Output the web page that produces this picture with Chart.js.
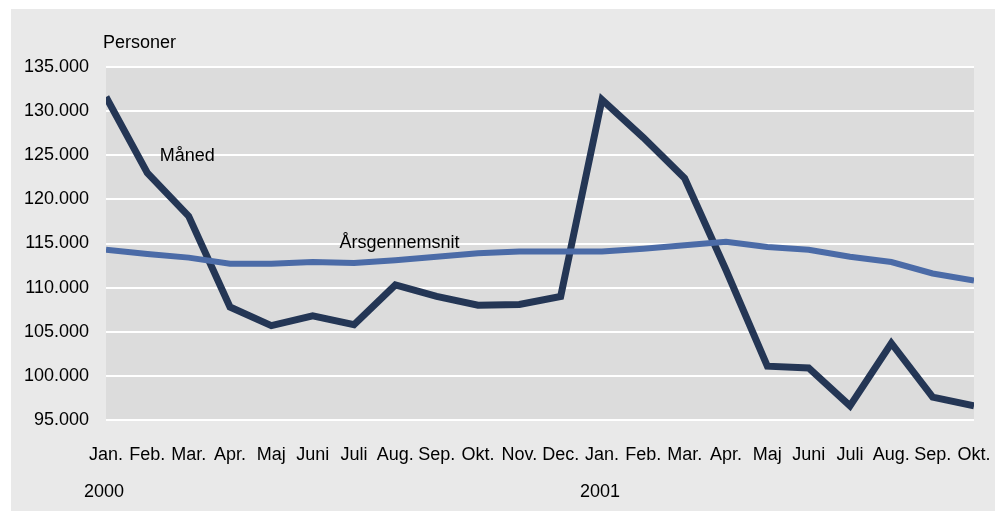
<!DOCTYPE html>
<html>
<head>
<meta charset="utf-8">
<script src="https://cdn.jsdelivr.net/npm/chart.js@4"></script>
<style>
  html, body { margin: 0; padding: 0; background: #ffffff; }
  #panel {
    position: absolute; left: 11px; top: 9px;
    width: 984px; height: 502px;
    background: #e9e9e9;
  }
  #chart { display: block; }
</style>
</head>
<body>
<div id="panel"><canvas id="chart" width="984" height="502"></canvas></div>
<script>
// Måneder (x-akse) og år under januar
const maaneder = ['Jan.', 'Feb.', 'Mar.', 'Apr.', 'Maj', 'Juni', 'Juli', 'Aug.', 'Sep.', 'Okt.', 'Nov.', 'Dec.',
                  'Jan.', 'Feb.', 'Mar.', 'Apr.', 'Maj', 'Juni', 'Juli', 'Aug.', 'Sep.', 'Okt.'];
const aar = ['2000', '', '', '', '', '', '', '', '', '', '', '',
             '2001', '', '', '', '', '', '', '', '', ''];

// Antal personer pr. måned
const maaned = [131600, 123000, 118100, 107800, 105700, 106800, 105800, 110300, 109000, 108000, 108100, 109000,
                131300, 127000, 122400, 112000, 101100, 100900, 96600, 103700, 97600, 96600];
// Glidende årsgennemsnit
const aarsgennemsnit = [114300, 113800, 113400, 112700, 112700, 112900, 112800, 113100, 113500, 113900, 114100, 114100,
                        114100, 114400, 114800, 115200, 114600, 114300, 113500, 112900, 111600, 110800];

const yMin = 95000, yMax = 135000, yStep = 5000;

const FONT = "'Liberation Sans', Arial, sans-serif";

// tusindtalsseparator med punktum
function fmt(v) {
    return String(v).replace(/\B(?=(\d{3})+(?!\d))/g, '.');
}

// grå baggrund i plotområdet + tekster
const plotBg = {
    id: 'plotBg',
    beforeDraw(chart) {
        const { ctx, chartArea: a } = chart;
        ctx.save();
        ctx.fillStyle = '#dcdcdc';
        ctx.fillRect(a.left, a.top, a.right - a.left, a.bottom - a.top);
        ctx.restore();
    },
    afterDraw(chart) {
        const { ctx, chartArea: a, scales } = chart;
        ctx.save();
        ctx.fillStyle = '#000';
        ctx.font = '18px ' + FONT;
        ctx.textBaseline = 'middle';
        ctx.textAlign = 'left';
        ctx.fillText('Personer', a.left - 3, a.top - 24);
        // serienavne ved linjerne
        ctx.fillText('Måned', scales.x.getPixelForValue(1.3), scales.y.getPixelForValue(124900));
        ctx.fillText('Årsgennemsnit', scales.x.getPixelForValue(5.65), scales.y.getPixelForValue(115100));
        // årstal under januar
        ctx.textAlign = 'center';
        aar.forEach((y, i) => {
            if (y) ctx.fillText(y, scales.x.getPixelForValue(i) - 2, a.bottom + 72);
        });
        ctx.restore();
    }
};

new Chart(document.getElementById('chart'), {
    type: 'line',
    data: {
        labels: maaneder,
        datasets: [
            {
                label: 'Årsgennemsnit',
                data: aarsgennemsnit,
                borderColor: '#4b6ba7',
                borderWidth: 6,
                pointRadius: 0,
                tension: 0,
                clip: 0
            },
            {
                label: 'Måned',
                data: maaned,
                borderColor: '#243655',
                borderWidth: 7,
                pointRadius: 0,
                tension: 0,
                clip: 0
            }
        ]
    },
    options: {
        responsive: false,
        animation: false,
        layout: { padding: { top: 58, right: 21, left: 0, bottom: 0 } },
        scales: {
            x: {
                grid: { display: false, drawTicks: false },
                border: { display: false },
                ticks: {
                    color: '#000',
                    font: { family: FONT, size: 18, lineHeight: 3.89 },
                    padding: 0,
                    maxRotation: 0,
                    autoSkip: false
                },
                afterFit(scale) { scale.height = 91; }
            },
            y: {
                min: yMin,
                max: yMax,
                grid: { color: '#ffffff', lineWidth: 2, drawTicks: false },
                border: { display: false },
                ticks: {
                    stepSize: yStep,
                    color: '#000',
                    font: { family: FONT, size: 18 },
                    padding: 17,
                    callback: v => fmt(v)
                },
                afterFit(scale) { scale.width = 95; }
            }
        },
        plugins: {
            legend: { display: false },
            tooltip: { enabled: false }
        }
    },
    plugins: [plotBg]
});
</script>
</body>
</html>
